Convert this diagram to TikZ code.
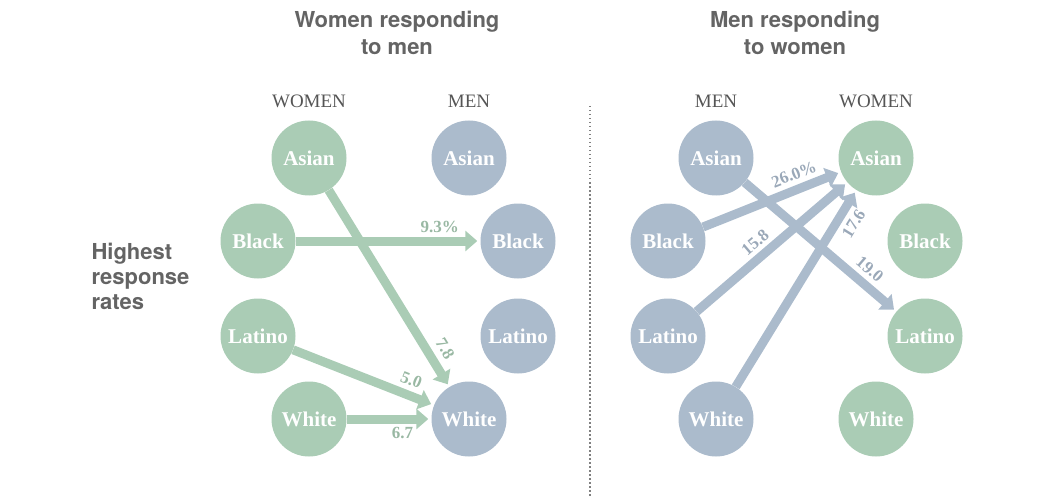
\documentclass[tikz,border=0pt]{standalone}
\usepackage{fontspec}
\setmainfont{Liberation Serif}
\newfontfamily\titlefont{TeX Gyre Heros}
\usetikzlibrary{arrows.meta}
\definecolor{cg}{RGB}{170,204,181}
\definecolor{cb}{RGB}{171,187,204}
\definecolor{tg}{RGB}{100,100,100}
\definecolor{hg}{RGB}{85,85,85}
\begin{document}
\begin{tikzpicture}[x=1pt,y=-1pt,
  circ/.style={circle, minimum size=75pt, inner sep=0pt, text=white, font=\bfseries\fontsize{21}{23}\selectfont},
  gc/.style={circ, fill=cg},
  bc/.style={circ, fill=cb},
  arr/.style={line width=9pt, -{Triangle[length=12pt,width=20pt]}, shorten >=3pt},
  garr/.style={arr, draw=cg},
  barr/.style={arr, draw=cb},
  lab/.style={sloped, inner sep=1pt, font=\bfseries\fontsize{17}{19}\selectfont},
  glab/.style={lab, text=cg!90!black},
  blab/.style={lab, text=cb!90!black},
  head/.style={font=\fontsize{19}{21}\selectfont, text=hg},
  ttl/.style={font=\titlefont\bfseries\fontsize{22}{27}\selectfont, text=tg, align=center}
]
\useasboundingbox (0,0) rectangle (1051,497);

% titles
\node[ttl] (t1) at (397,33) {Women responding\\to men};
\node[ttl] (t2) at (795,33) {Men responding\\to women};
\node[ttl, align=left, anchor=west, font=\titlefont\bfseries\fontsize{22}{25}\selectfont] (hr) at (88,276) {Highest\\response\\rates};

% headers
\node[head] (h1) at (309,101) {WOMEN};
\node[head] (h2) at (469,101) {MEN};
\node[head] (h3) at (716,101) {MEN};
\node[head] (h4) at (876,101) {WOMEN};

% divider
\coordinate (d1) at (590,106);
\coordinate (d2) at (590,497);
\draw[gray, line width=1.5pt, dash pattern=on 1.5pt off 2.5pt] (d1) -- (d2);

% left panel
\node[gc] (lwA) at (309,158) {Asian};
\node[gc] (lwB) at (258,241) {Black};
\node[gc] (lwL) at (258,336) {Latino};
\node[gc] (lwW) at (309,419) {White};
\node[bc] (lmA) at (469,158) {Asian};
\node[bc] (lmB) at (518,241) {Black};
\node[bc] (lmL) at (518,336) {Latino};
\node[bc] (lmW) at (469,419) {White};

\draw[garr] (lwB) -- node[glab, pos=0.78, above=3pt] {9.3\%} (lmB);
\draw[garr] (lwA) -- node[glab, pos=0.85, above=5pt] {7.8} (lmW);
\draw[garr] (lwL) -- node[glab, pos=0.80, above=4pt] {5.0} (lmW);
\draw[garr] (lwW) -- node[glab, pos=0.66, below=3pt] {6.7} (lmW);

% right panel
\node[bc] (rmA) at (716,158) {Asian};
\node[bc] (rmB) at (668,241) {Black};
\node[bc] (rmL) at (668,336) {Latino};
\node[bc] (rmW) at (716,419) {White};
\node[gc] (rwA) at (876,158) {Asian};
\node[gc] (rwB) at (925,241) {Black};
\node[gc] (rwL) at (925,336) {Latino};
\node[gc] (rwW) at (876,419) {White};

\draw[barr] (rmA) -- node[blab, pos=0.76, above=4pt] {19.0} (rwL);
\draw[barr] (rmB) -- node[blab, pos=0.70, above=4pt] {26.0\%} (rwA);
\draw[barr] (rmL) -- node[blab, pos=0.45, above=3pt] {15.8} (rwA);
\draw[barr] (rmW) -- node[blab, pos=0.87, below=4pt] {17.6} (rwA);
\end{tikzpicture}
\end{document}
